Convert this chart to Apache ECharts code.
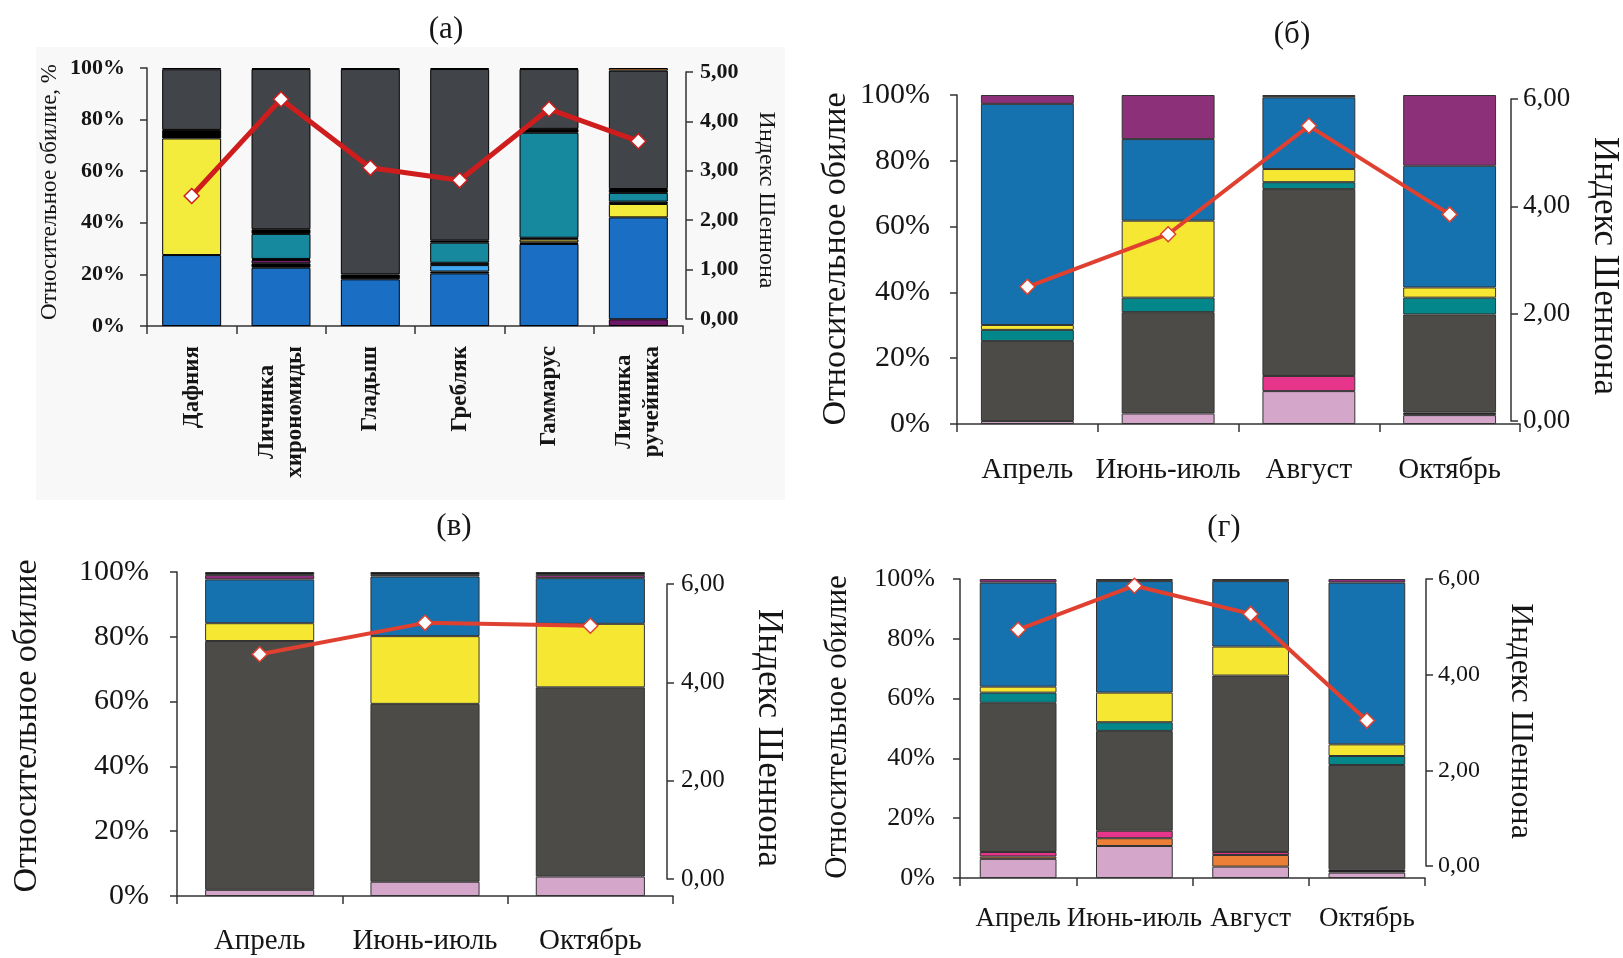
<!DOCTYPE html>
<html><head><meta charset="utf-8">
<script src="https://cdn.jsdelivr.net/npm/echarts@6/dist/echarts.min.js"></script>
<style>html,body{margin:0;padding:0;background:#fff}#c{width:1623px;height:958px}</style>
</head><body><div id="c"></div>
<script>
// ---------- Panel (а) ----------
const catsA = ['Дафния', 'Личинка\nхирономиды', 'Гладыш', 'Гребляк', 'Гаммарус', 'Личинка\nручейника'];
const aPurpleLow = [0, 0, 0, 0, 0, 2.6];
const aBlue      = [27.5, 22.6, 18.1, 20.4, 31.8, 39.5];
const aBlackLow  = [0, 1.7, 1.9, 0.7, 0.6, 0];
const aLightBlue = [0, 0, 0, 2.5, 0, 0];
const aPurpleMid = [0, 1.3, 0, 0, 0, 0];
const aMauve     = [0, 0.4, 0, 0, 0, 0];
const aOlive     = [0, 0, 0, 0, 1.2, 0];
const aYellow    = [45.2, 0, 0, 0, 0, 5.2];
const aBlackMid  = [0, 0, 0, 0.9, 0.6, 0.9];
const aTeal      = [0, 9.7, 0, 7.8, 40.7, 3.4];
const aBlackHigh = [3.3, 1.8, 0, 0.9, 1.5, 1.5];
const aGray      = [23.5, 62.1, 79.6, 66.4, 23.2, 45.9];
const aBlackTop  = [0.5, 0.4, 0.4, 0.4, 0.4, 0];
const aOrange    = [0, 0, 0, 0, 0, 1.0];
const shannonA   = [2.49, 4.45, 3.06, 2.81, 4.25, 3.60];

// ---------- Panel (б) ----------
const catsB = ['Апрель', 'Июнь-июль', 'Август', 'Октябрь'];
const bLavender = [0.9, 3.2, 10.0, 2.7];
const bMagenta  = [0, 0, 4.6, 0];
const bBlackLow = [0, 0, 0, 0.8];
const bGray     = [24.3, 30.8, 56.8, 29.8];
const bTeal     = [3.4, 4.4, 2.1, 5.1];
const bYellow   = [1.5, 23.4, 4.0, 3.1];
const bBlue     = [67.2, 24.8, 21.8, 37.0];
const bPurple   = [2.7, 13.4, 0, 21.5];
const bBlackTop = [0, 0, 0.7, 0];
const shannonB  = [2.50, 3.48, 5.50, 3.85];

// ---------- Panel (в) ----------
const catsV = ['Апрель', 'Июнь-июль', 'Октябрь'];
const vLavender = [1.9, 4.4, 6.0];
const vGray     = [76.8, 54.9, 58.4];
const vYellow   = [5.5, 20.9, 19.6];
const vBlue     = [13.5, 18.4, 14.1];
const vPurple   = [1.4, 0.5, 1.0];
const vBlackTop = [0.9, 0.9, 0.9];
const shannonV  = [4.57, 5.21, 5.15];

// ---------- Panel (г) ----------
const catsG = ['Апрель', 'Июнь-июль', 'Август', 'Октябрь'];
const gLavender = [6.4, 10.7, 3.8, 1.8];
const gOrange   = [0.8, 2.6, 3.9, 0];
const gMagenta  = [1.5, 2.5, 1.0, 0];
const gBlackLow = [0, 0, 0, 1.1];
const gGray     = [49.9, 33.4, 59.0, 34.9];
const gTeal     = [3.4, 2.9, 0, 3.0];
const gYellow   = [2.0, 9.9, 9.7, 3.9];
const gBlue     = [34.8, 37.3, 21.9, 54.1];
const gPurple   = [1.2, 0, 0, 1.2];
const gBlackTop = [0, 0.7, 0.7, 0];
const shannonG  = [4.94, 5.86, 5.27, 3.04];

// ---------- styles ----------
const FONT = '"Liberation Serif", "Times New Roman", serif';
const TXT = '#151515';
const AX = '#333';

const stackA = [
  [aPurpleLow, '#6d1767'], [aBlue, '#1a6ec4'], [aBlackLow, '#000000'], [aLightBlue, '#40a8f2'],
  [aPurpleMid, '#7a1a6e'], [aMauve, '#a05a8a'], [aOlive, '#c9b550'], [aYellow, '#f4ec3c'],
  [aBlackMid, '#000000'], [aTeal, '#16899f'], [aBlackHigh, '#000000'], [aGray, '#414448'],
  [aBlackTop, '#000000'], [aOrange, '#d4873d']
];
const stackB = [
  [bLavender, '#d3a6ca'], [bMagenta, '#e6358a'], [bBlackLow, '#1a1a1a'], [bGray, '#4c4b47'],
  [bTeal, '#04878a'], [bYellow, '#f6e732'], [bBlue, '#1672ae'], [bPurple, '#8c3179'], [bBlackTop, '#1a1a1a']
];
const stackV = [
  [vLavender, '#d3a6ca'], [vGray, '#4c4b47'], [vYellow, '#f6e732'], [vBlue, '#1672ae'],
  [vPurple, '#8c3179'], [vBlackTop, '#1a1a1a']
];
const stackG = [
  [gLavender, '#d3a6ca'], [gOrange, '#ec7f37'], [gMagenta, '#e6358a'], [gBlackLow, '#1a1a1a'],
  [gGray, '#4c4b47'], [gTeal, '#04878a'], [gYellow, '#f6e732'], [gBlue, '#1672ae'],
  [gPurple, '#8c3179'], [gBlackTop, '#1a1a1a']
];

const panels = [
  { cats: catsA, stack: stackA, shannon: shannonA, border: '#000',
    bar: {left: 147, top: 68, width: 536, height: 258},
    line: {left: 147, top: 72, width: 536, height: 247},
    rMax: 5, rInt: 1, rOffset: 3, lineColor: '#cf1d1d', lineWidth: 5,
    yLab: {fontSize: 22, fontWeight: 'bold', margin: 22},
    rLab: {fontSize: 22, fontWeight: 'bold', margin: 14},
    xLab: {fontSize: 23, fontWeight: 'bold', margin: 20, rotate: 90} },
  { cats: catsB, stack: stackB, shannon: shannonB, border: '#333',
    bar: {left: 957, top: 95, width: 563, height: 329},
    line: {left: 957, top: 99, width: 563, height: 322},
    rMax: 6, rInt: 2, rOffset: -9, lineColor: '#e0402f', lineWidth: 4,
    yLab: {fontSize: 30, margin: 27},
    rLab: {fontSize: 27, margin: 12},
    xLab: {fontSize: 29, margin: 32} },
  { cats: catsV, stack: stackV, shannon: shannonV, border: '#333',
    bar: {left: 177, top: 572, width: 496, height: 324},
    line: {left: 177, top: 584, width: 496, height: 295},
    rMax: 6, rInt: 2, rOffset: -6, lineColor: '#e0402f', lineWidth: 4,
    yLab: {fontSize: 30, margin: 28},
    rLab: {fontSize: 25, margin: 14},
    xLab: {fontSize: 29, margin: 31} },
  { cats: catsG, stack: stackG, shannon: shannonG, border: '#333',
    bar: {left: 960, top: 579, width: 465, height: 299},
    line: {left: 960, top: 579, width: 465, height: 287},
    rMax: 6, rInt: 2, rOffset: 1, lineColor: '#e0402f', lineWidth: 4,
    yLab: {fontSize: 26, margin: 25},
    rLab: {fontSize: 24, margin: 12},
    xLab: {fontSize: 27, margin: 27} }
];

const grid = [], xAxis = [], yAxis = [], series = [];
panels.forEach((p, i) => {
  const gb = i * 2, gl = i * 2 + 1;
  grid.push(Object.assign({outerBoundsMode: 'none'}, p.bar));
  grid.push(Object.assign({outerBoundsMode: 'none'}, p.line));
  const xl = Object.assign({interval: 0, fontFamily: FONT, color: TXT}, p.xLab);
  if (i === 0) {
    xl.formatter = v => v.split('\n').map(s => '{c|' + s + '}').join('\n');
    xl.rich = {c: {align: 'center', fontFamily: FONT, fontSize: 23, fontWeight: 'bold', color: TXT, lineHeight: 28}};
  }
  xAxis.push({type: 'category', gridIndex: gb, data: p.cats, boundaryGap: true,
    axisLine: {show: true, lineStyle: {color: AX, width: 1.5}},
    axisTick: {show: true, length: 8, lineStyle: {color: AX, width: 1.5}},
    axisLabel: xl});
  xAxis.push({type: 'category', gridIndex: gl, data: p.cats, boundaryGap: true, show: false});
  yAxis.push({type: 'value', gridIndex: gb, min: 0, max: 100, interval: 20, position: 'left',
    axisLine: {show: true, lineStyle: {color: AX, width: 1.5}},
    axisTick: {show: true, length: 7, lineStyle: {color: AX, width: 1.5}},
    splitLine: {show: false},
    axisLabel: Object.assign({formatter: '{value}%', fontFamily: FONT, color: TXT}, p.yLab)});
  yAxis.push({type: 'value', gridIndex: gl, min: 0, max: p.rMax, interval: p.rInt, position: 'right', offset: p.rOffset,
    axisLine: {show: true, lineStyle: {color: AX, width: 1.5}},
    axisTick: {show: true, length: 7, lineStyle: {color: AX, width: 1.5}},
    splitLine: {show: false},
    axisLabel: Object.assign({formatter: v => v.toFixed(2).replace('.', ','), fontFamily: FONT, color: TXT}, p.rLab)});
  p.stack.forEach(([arr, col]) => {
    series.push({type: 'bar', stack: 'p' + i, xAxisIndex: gb, yAxisIndex: gb,
      data: arr.map(v => v > 0 ? v : '-'), barCategoryGap: '34%', silent: true,
      itemStyle: {color: col, borderColor: p.border, borderWidth: 1}});
  });
  series.push({type: 'line', xAxisIndex: gl, yAxisIndex: gl, data: p.shannon, z: 10,
    symbol: 'diamond', symbolSize: 15, silent: true,
    lineStyle: {color: p.lineColor, width: p.lineWidth},
    itemStyle: {color: '#ffffff', borderColor: p.lineColor, borderWidth: 1.5}});
});

function label(text, x, y, size, rot, weight) {
  return {type: 'text', x: x, y: y, rotation: rot || 0, z: 100,
    style: {text: text, fontFamily: FONT, fontSize: size, fontWeight: weight || 'normal', fill: TXT,
      align: 'center', verticalAlign: 'middle', textAlign: 'center', textVerticalAlign: 'middle'}};
}
const R = Math.PI / 2;
const graphic = [
  {type: 'rect', z: -10, shape: {x: 36, y: 47, width: 749, height: 453}, style: {fill: '#f8f8f8'}},
  label('(а)', 446, 30, 31), label('(б)', 1292, 35, 31), label('(в)', 454, 527, 31), label('(г)', 1224, 528, 31),
  label('Относительное обилие, %', 50, 192, 23, R), label('Индекс Шеннона', 766, 200, 24, -R),
  label('Относительное обилие', 836, 259, 34, R), label('Индекс Шеннона', 1604, 266, 35, -R),
  label('Относительное обилие', 27, 726, 34, R), label('Индекс Шеннона', 768, 738, 35, -R),
  label('Относительное обилие', 838, 727, 31, R), label('Индекс Шеннона', 1520, 721, 32, -R)
];

const chart = echarts.init(document.getElementById('c'));
chart.setOption({animation: false, backgroundColor: '#ffffff', grid, xAxis, yAxis, series, graphic});
</script></body></html>
